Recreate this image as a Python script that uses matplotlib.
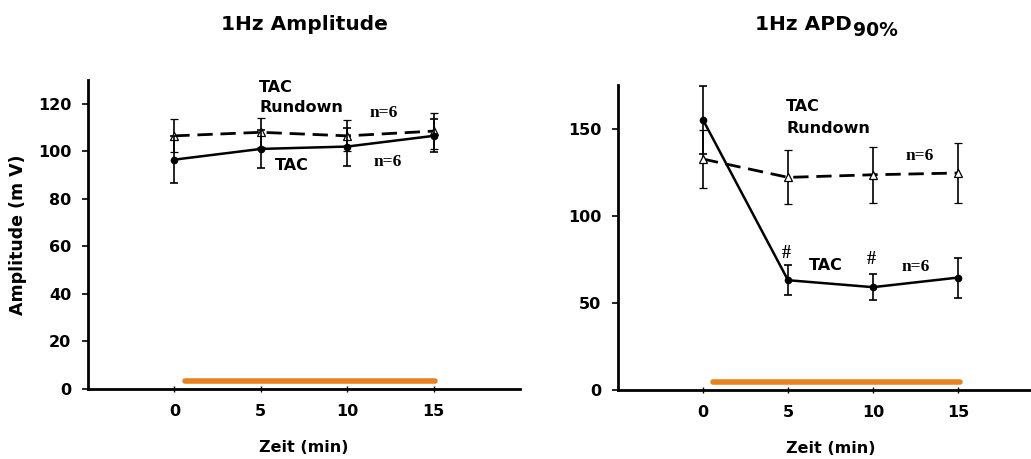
import matplotlib
matplotlib.use("Agg")
import matplotlib.pyplot as plt

# data
zeit = [0, 5, 10, 15]

amp_tac = [96.5, 101, 102, 106.5]
amp_tac_err = [10, 8, 8, 7]
amp_rundown = [106.5, 108, 106.5, 108.5]
amp_rundown_err = [7, 6, 6.5, 7.5]

apd_tac = [155, 63, 59, 64.5]
apd_tac_err = [19.5, 8.5, 7.5, 11.5]
apd_rundown = [132.5, 122, 123.5, 124.5]
apd_rundown_err = [16.5, 15.5, 16, 17]

drug_period = [0.6, 15.1]  # orange bar (TAC application)

W, H = 1031, 459
ORANGE = "#E8821E"
SANS = "DejaVu Sans"
SERIF = "Liberation Serif"

plt.rcParams["font.family"] = SANS
plt.rcParams["font.weight"] = "bold"


def px(x, y):
    """pixel (from top-left) -> figure fraction"""
    return x / W, 1 - y / H


def draw_panel(ax, tac, tac_err, rd, rd_err, ylim, yticks, bar_y):
    ax.errorbar(zeit, rd, yerr=rd_err, color="black", lw=2.0,
                linestyle=(0, (5.5, 2.8)), marker="^", ms=6, mfc="white",
                mec="black", mew=0.9, ecolor="black", elinewidth=1.2,
                capsize=3, capthick=1.2, zorder=3)
    ax.errorbar(zeit, tac, yerr=tac_err, color="black", lw=1.8,
                marker="o", ms=4.5, mfc="black", mec="black",
                ecolor="black", elinewidth=1.2, capsize=3, capthick=1.2,
                zorder=4)
    ax.plot(drug_period, [bar_y, bar_y], color=ORANGE, lw=4,
            solid_capstyle="round", zorder=2)

    ax.set_xlim(-5, 20)
    ax.set_ylim(*ylim)
    ax.set_xticks(zeit)
    ax.set_yticks(yticks)
    for s in ["top", "right"]:
        ax.spines[s].set_visible(False)
    for s in ["left", "bottom"]:
        ax.spines[s].set_linewidth(2)
    ax.tick_params(axis="y", direction="out", length=4, width=1.2,
                   labelsize=11.5, pad=8)
    ax.tick_params(axis="x", direction="inout", length=4, width=1,
                   labelsize=11.5, pad=9)
    for lab in ax.get_xticklabels() + ax.get_yticklabels():
        lab.set_fontweight("bold")
    ax.set_xlabel("Zeit (min)", fontsize=11.5, fontweight="bold", labelpad=15)


fig = plt.figure(figsize=(W / 100, H / 100), dpi=100)

ax1 = fig.add_axes([88 / W, 70 / H, 432 / W, 309 / H])
draw_panel(ax1, amp_tac, amp_tac_err, amp_rundown, amp_rundown_err,
           (0, 130), [0, 20, 40, 60, 80, 100, 120], 3.4)
ax1.set_ylabel("Amplitude (m V)", fontsize=12.5, fontweight="bold", labelpad=8)

ax1.text(4.9, 127, "TAC", fontsize=11.5, fontweight="bold", va="center")
ax1.text(4.9, 118.3, "Rundown", fontsize=11.5, fontweight="bold", va="center")
ax1.text(11.3, 116, "n=6", family=SERIF, fontsize=12.5, fontweight="bold", va="center")
ax1.text(5.8, 94, "TAC", fontsize=11.5, fontweight="bold", va="center")
ax1.text(11.5, 95.3, "n=6", family=SERIF, fontsize=12.5, fontweight="bold", va="center")

ax2 = fig.add_axes([618 / W, 69 / H, 425 / W, 305 / H])
draw_panel(ax2, apd_tac, apd_tac_err, apd_rundown, apd_rundown_err,
           (0, 175), [0, 50, 100, 150], 4.6)

ax2.text(4.9, 162.7, "TAC", fontsize=11.5, fontweight="bold", va="center")
ax2.text(4.9, 150, "Rundown", fontsize=11.5, fontweight="bold", va="center")
ax2.text(11.9, 134.5, "n=6", family=SERIF, fontsize=12.5, fontweight="bold", va="center")
ax2.text(6.2, 71.5, "TAC", fontsize=11.5, fontweight="bold", va="center")
ax2.text(11.7, 70.6, "n=6", family=SERIF, fontsize=12.5, fontweight="bold", va="center")
ax2.text(4.9, 78.6, "#", family=SERIF, fontsize=13, fontweight="bold", ha="center", va="center")
ax2.text(9.9, 75, "#", family=SERIF, fontsize=13, fontweight="bold", ha="center", va="center")

# titles
fig.text(*px(304, 30), "1Hz Amplitude", fontsize=14.5, fontweight="bold",
         ha="center", va="baseline")
fig.text(*px(852, 30), "1Hz APD", fontsize=14.5, fontweight="bold",
         ha="right", va="baseline")
fig.text(*px(853, 36), "90%", fontsize=13.5, fontweight="bold",
         ha="left", va="baseline")

fig.savefig("out.png", dpi=100, facecolor="white")
